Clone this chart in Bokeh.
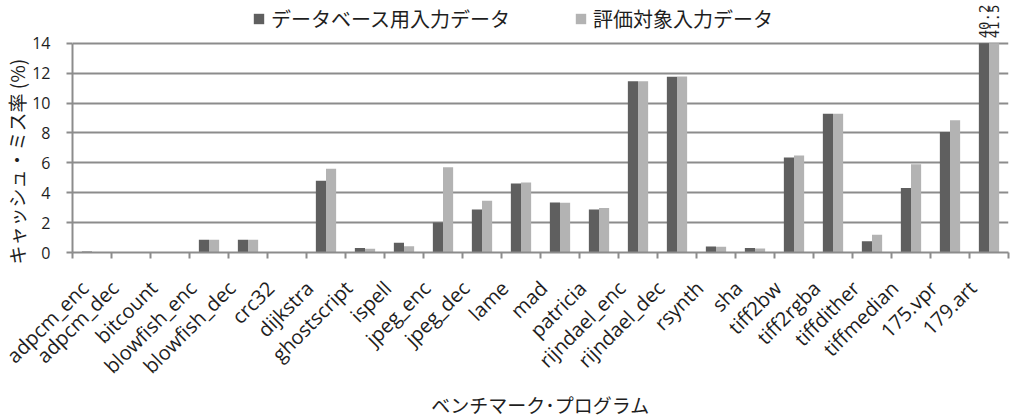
import numpy as np
from math import pi
from bokeh.plotting import figure
from bokeh.models import (Range1d, FixedTicker, Legend, LegendItem, LabelSet,
                          ColumnDataSource, Title)
from bokeh.core.properties import value
from bokeh.embed import file_html
from bokeh.resources import INLINE

# ---- data ----
categories = ["adpcm_enc", "adpcm_dec", "bitcount", "blowfish_enc", "blowfish_dec",
              "crc32", "dijkstra", "ghostscript", "ispell", "jpeg_enc", "jpeg_dec",
              "lame", "mad", "patricia", "rijndael_enc", "rijndael_dec", "rsynth",
              "sha", "tiff2bw", "tiff2rgba", "tiffdither", "tiffmedian", "175.vpr",
              "179.art"]
database_input = [0.06, 0, 0, 0.85, 0.85, 0, 4.8, 0.3, 0.65, 2.0, 2.87, 4.62, 3.35,
                  2.87, 11.47, 11.77, 0.4, 0.3, 6.36, 9.29, 0.76, 4.32, 8.07, 40.2]
evaluation_input = [0.04, 0, 0, 0.85, 0.85, 0, 5.6, 0.25, 0.42, 5.7, 3.47, 4.69, 3.33,
                    2.98, 11.47, 11.78, 0.38, 0.27, 6.5, 9.29, 1.18, 5.91, 8.85, 41.5]
series_names = ["データベース用入力データ", "評価対象入力データ"]
y_ticks = [0, 2, 4, 6, 8, 10, 12, 14]
x_title = "ベンチマーク･プログラム"
y_title = "キャッシュ・ミス率 (%)"

# ---- styling ----
YMAX = 14
PX_PER_UNIT = 15.0
FRAME_H = 253
YTOP = FRAME_H / PX_PER_UNIT   # room above the axis for legend and overflow labels
DARK = "#5f5f5f"
LIGHT = "#b3b3b3"
GRID = "#8c8c8c"
TEXT = "#1e1e1e"
JP = "Noto Sans CJK JP"
LAT = "Open Sans"
BAR_W = 0.26
LABEL_SHIFT = 0.42   # compensates the anchor of rotated tick labels

n = len(categories)
centers = np.arange(n) + 0.5
boundaries = np.arange(n + 1)

p = figure(width=1026, height=420, output_backend="svg", toolbar_location=None,
           x_range=Range1d(0, n), y_range=Range1d(0, YTOP),
           min_border_left=66, min_border_right=18, min_border_top=0,
           min_border_bottom=167)
p.outline_line_color = None
p.background_fill_color = "white"
p.border_fill_color = "white"

db = np.array(database_input, dtype=float)
ev = np.array(evaluation_input, dtype=float)
src = ColumnDataSource(dict(x1=centers - BAR_W / 2, x2=centers + BAR_W / 2,
                            t1=np.minimum(db, YMAX), t2=np.minimum(ev, YMAX)))
r1 = p.vbar(x="x1", top="t1", width=BAR_W, source=src, fill_color=DARK, line_color=None)
r2 = p.vbar(x="x2", top="t2", width=BAR_W, source=src, fill_color=LIGHT, line_color=None)

# labels for bars exceeding the axis maximum
lx, ly, lt = [], [], []
for arr, off in ((db, -BAR_W / 2), (ev, BAR_W / 2)):
    for i, v in enumerate(arr):
        if v > YMAX:
            lx.append(centers[i] + off)
            ly.append(YMAX)
            lt.append(f"{v:.1f}")
lsrc = ColumnDataSource(dict(x=lx, y=ly, text=lt))
p.add_layout(LabelSet(x="x", y="y", text="text", source=lsrc, angle=pi / 2,
                      text_align="left", text_baseline="middle", y_offset=5,
                      text_font_size="14px", text_font=value("DejaVu Sans Mono"),
                      text_color=TEXT))

# grid
p.xgrid.visible = False
p.ygrid.ticker = FixedTicker(ticks=y_ticks)
p.ygrid.grid_line_color = GRID
p.ygrid.grid_line_width = 2

# x axis
label_pos = centers - LABEL_SHIFT
xa = p.xaxis[0]
xa.ticker = FixedTicker(ticks=list(label_pos), minor_ticks=list(boundaries))
xa.major_label_overrides = {float(c): name for c, name in zip(label_pos, categories)}
xa.major_tick_out = 0
xa.major_tick_in = 0
xa.minor_tick_out = 6
xa.minor_tick_in = 0
xa.minor_tick_line_color = GRID
xa.minor_tick_line_width = 2
xa.axis_line_color = GRID
xa.axis_line_width = 2
xa.major_label_orientation = pi / 4
xa.major_label_text_font = LAT
xa.major_label_text_font_size = "20px"
xa.major_label_text_color = TEXT
xa.major_label_standoff = 26
xa.axis_label = x_title
xa.axis_label_text_font = JP
xa.axis_label_text_font_size = "19px"
xa.axis_label_text_font_style = "normal"
xa.axis_label_text_color = TEXT
xa.axis_label_standoff = -1

# y axis
ya = p.yaxis[0]
ya.ticker = FixedTicker(ticks=y_ticks)
ya.bounds = (0, YMAX)
ya.major_tick_out = 6
ya.major_tick_in = 0
ya.minor_tick_out = 0
ya.minor_tick_in = 0
ya.major_tick_line_color = GRID
ya.major_tick_line_width = 2
ya.axis_line_color = GRID
ya.axis_line_width = 2
ya.major_label_text_font = LAT
ya.major_label_text_font_size = "16px"
ya.major_label_text_color = TEXT
ya.major_label_standoff = 16

ytitle = Title(text=y_title, align="left", offset=-12, standoff=0,
               text_font=JP, text_font_size="19px", text_font_style="normal",
               text_color=TEXT)
p.add_layout(ytitle, "left")

legend = Legend(items=[LegendItem(label=series_names[0], renderers=[r1]),
                       LegendItem(label=series_names[1], renderers=[r2])],
                orientation="horizontal", location=(180, 219),
                glyph_width=13, glyph_height=13, label_standoff=6, spacing=64,
                padding=0, margin=0, border_line_color=None,
                background_fill_alpha=0, label_text_font=JP,
                label_text_font_size="20px", label_text_color=TEXT)
p.add_layout(legend)

open("out.html", "w").write(file_html(p, INLINE))
